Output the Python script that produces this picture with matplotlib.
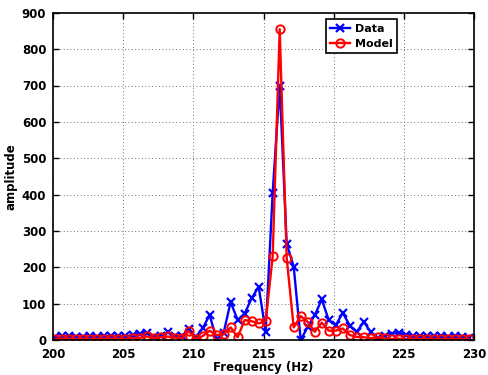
import matplotlib
matplotlib.use("Agg")
import matplotlib.pyplot as plt

freq = [200.15, 200.65, 201.15, 201.65, 202.15, 202.65, 203.15, 203.65, 204.15, 204.65,
        205.15, 205.65, 206.15, 206.65, 207.15, 207.65, 208.15, 208.65, 209.15, 209.65,
        210.15, 210.65, 211.15, 211.65, 212.15, 212.65, 213.15, 213.65, 214.15, 214.65,
        215.15, 215.65, 216.15, 216.65, 217.15, 217.65, 218.15, 218.65, 219.15, 219.65,
        220.15, 220.65, 221.15, 221.65, 222.15, 222.65, 223.15, 223.65, 224.15, 224.65,
        225.15, 225.65, 226.15, 226.65, 227.15, 227.65, 228.15, 228.65, 229.15, 229.65]

data = [8, 10, 12, 9, 8, 10, 9, 11, 10, 12,
        10, 14, 18, 20, 8, 10, 22, 12, 10, 30,
        8, 32, 69, 2, 20, 105, 55, 73, 115, 147,
        23, 405, 700, 265, 202, 0, 37, 68, 112, 55,
        41, 75, 40, 23, 50, 22, 5, 12, 18, 20,
        15, 12, 10, 12, 10, 11, 9, 10, 8, 7]

model = [3, 4, 4, 3, 4, 3, 3, 4, 4, 4,
         3, 5, 6, 10, 6, 8, 10, 7, 5, 25,
         3, 11, 26, 14, 16, 35, 8, 55, 52, 46,
         52, 230, 855, 225, 35, 66, 50, 23, 48, 26,
         26, 32, 14, 9, 8, 5, 8, 5, 3, 4,
         3, 4, 3, 3, 3, 3, 3, 3, 3, 3]

xticks = [200, 205, 210, 215, 220, 225, 230]
yticks = [0, 100, 200, 300, 400, 500, 600, 700, 800, 900]

plt.rcParams['font.family'] = ['DejaVu Sans']
plt.rcParams['font.weight'] = 'bold'

fig = plt.figure(figsize=(4.89, 3.75), dpi=100)
ax = fig.add_axes([0.109, 0.093, 0.860, 0.873])

ax.plot(freq, data, color='blue', marker='x', lw=1.7, ms=5.5, mew=1.6, label='Data')
ax.plot(freq, model, color='red', marker='o', lw=1.7, ms=6, mew=1.4,
        markerfacecolor='none', label='Model')

ax.set_xlim(200, 230)
ax.set_ylim(0, 900)
ax.set_xticks(xticks)
ax.set_yticks(yticks)
ax.tick_params(direction='in', labelsize=8.5, width=1, length=4, top=True, right=True)
ax.tick_params(axis='x', pad=5.5)
ax.tick_params(axis='y', pad=5)
for lab in ax.get_xticklabels() + ax.get_yticklabels():
    lab.set_fontweight('bold')
ax.grid(True, linestyle=(0, (1, 2.5)), color='#707070', lw=0.7)
for s in ax.spines.values():
    s.set_linewidth(1.2)

ax.set_xlabel('Frequency (Hz)', fontsize=8.5, fontweight='bold', labelpad=0)
ax.set_ylabel('amplitude', fontsize=8.5, fontweight='bold', labelpad=3)

leg = ax.legend(loc='upper left', bbox_to_anchor=(0.648, 0.98), fontsize=8,
                frameon=True, fancybox=False, edgecolor='black', framealpha=1,
                handlelength=1.8, borderpad=0.4, labelspacing=0.45, handletextpad=0.4,
                borderaxespad=0)
leg.get_frame().set_linewidth(1.2)
for t in leg.get_texts():
    t.set_fontweight('bold')

fig.savefig('out.png', dpi=100)
